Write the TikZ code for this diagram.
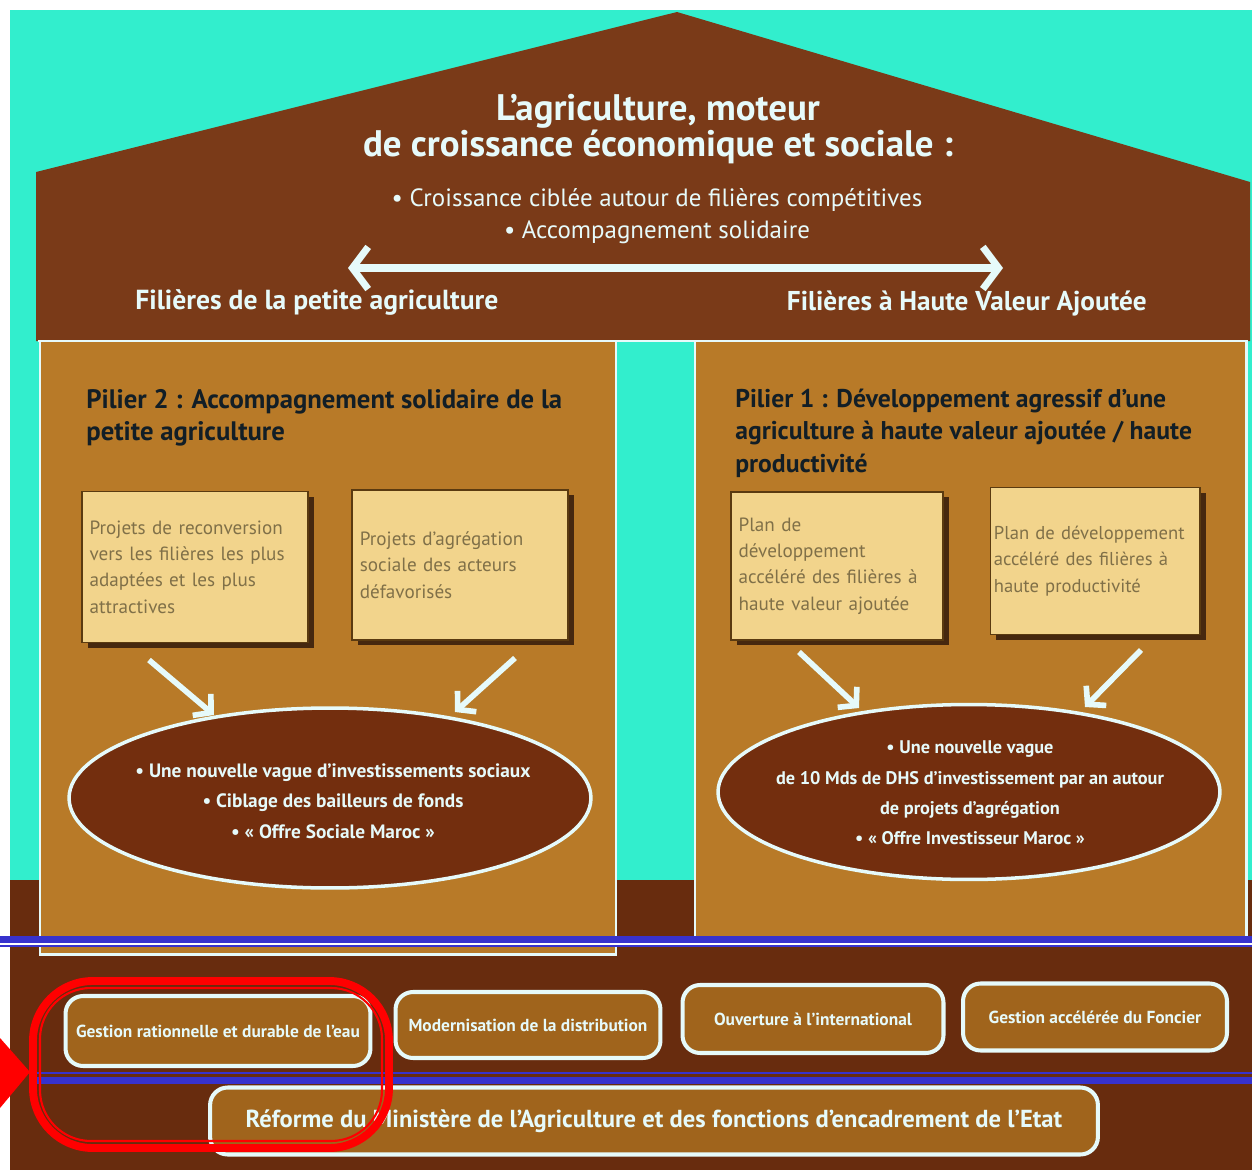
\documentclass[tikz,border=0pt]{standalone}
\usepackage{fontspec}
\usepackage{graphicx}
\setmainfont{PT Sans}
\usetikzlibrary{arrows.meta,shapes.geometric,shadows}
\definecolor{bggreen}{RGB}{50,238,205}
\definecolor{roofbrown}{RGB}{122,58,24}
\definecolor{groundbrown}{RGB}{104,44,14}
\definecolor{pillargold}{RGB}{184,122,40}
\definecolor{boxyellow}{RGB}{242,212,140}
\definecolor{subtext}{RGB}{128,112,72}
\definecolor{shadowc}{RGB}{70,40,15}
\definecolor{ellbrown}{RGB}{115,46,14}
\definecolor{linewhite}{RGB}{230,250,250}
\definecolor{boxgold}{RGB}{160,100,28}
\definecolor{titledark}{RGB}{18,30,38}
\definecolor{blueline}{RGB}{55,50,205}
\definecolor{boxedge}{RGB}{90,58,16}
\tikzset{
  pillarshape/.style={draw=linewhite, line width=1.7pt, fill=pillargold},
  subbox/.style={rectangle, draw=boxedge, line width=0.6pt, fill=boxyellow,
    inner xsep=4pt, inner ysep=0pt, align=left, text=subtext,
    font=\fontsize{10.9}{15}\selectfont,
    drop shadow={shadow xshift=3.5pt, shadow yshift=-3pt, fill=shadowc, opacity=1}},
  ellshape/.style={ellipse, draw=linewhite, line width=2pt, fill=ellbrown, inner sep=0pt},
  elltext/.style={align=center, text=linewhite, inner sep=0pt,
    font=\bfseries\fontsize{11}{17.4}\selectfont},
  bottombox/.style={rectangle, rounded corners=10pt, draw=linewhite, line width=2.3pt,
    fill=boxgold, text=linewhite, inner sep=0pt,
    font=\bfseries\fontsize{9.9}{11}\selectfont},
  bigarrow/.style={draw=linewhite, line width=3.2pt, -{Straight Barb[length=7pt,width=16pt]}},
  pillartitle/.style={anchor=north west, align=left, text=titledark, inner sep=0pt,
    font=\bfseries\fontsize{15.2}{18.3}\selectfont},
  rooftext/.style={align=center, text=linewhite, inner sep=0pt},
  blueband/.style={draw=blueline},
  redmark/.style={draw=red}
}
\begin{document}
\begin{tikzpicture}[x=0.02cm,y=-0.02cm]
\useasboundingbox (0,0) rectangle (1252,1170);
% background
\fill[white] (0,0) rectangle (1252,1170);
\fill[bggreen] (10,10) rectangle (1252,880);
\fill[groundbrown] (10,880) rectangle (1252,1170);
% roof
\fill[roofbrown] (36,341) -- (36,172) -- (677,12) -- (1250,182) -- (1250,341) -- cycle;
\draw[linewhite, line width=1.7pt] (38,341) -- (1248,341);
% roof texts
\node[rooftext, font=\bfseries\fontsize{21}{20}\selectfont] (title) at (658,129)
  {L’agriculture, moteur\\de croissance économique et sociale :};
\node[rooftext, font=\fontsize{14.2}{18}\selectfont] (bullets) at (657,216)
  {• Croissance ciblée autour de filières compétitives\\• Accompagnement solidaire};
\coordinate (arL) at (348,268);
\coordinate (arR) at (1003,268);
\draw[linewhite, line width=4pt, {Straight Barb[length=9pt,width=24pt]}-{Straight Barb[length=9pt,width=24pt]}] (arL) -- (arR);
\node[rooftext, anchor=west, font=\bfseries\fontsize{15.7}{16}\selectfont] (filL) at (135,302)
  {Filières de la petite agriculture};
\node[rooftext, anchor=east, font=\bfseries\fontsize{15.5}{16}\selectfont] (filR) at (1147,304)
  {Filières à Haute Valeur Ajoutée};
% pillars
\path[pillarshape] (40,341) rectangle (616,954);
\path[pillarshape] (695,341) rectangle (1246,944);
% pillar 2 (left)
\node[pillartitle] (p2) at (86,389)
  {Pilier 2 : Accompagnement solidaire de la\\petite agriculture};
\node[subbox, minimum width=4.52cm, minimum height=3.02cm, text width=120pt] (L1) at (195,567)
  {Projets de reconversion\\vers les filières les plus\\adaptées et les plus\\attractives};
\node[subbox, minimum width=4.32cm, minimum height=3.0cm, text width=114pt] (L2) at (460,565)
  {Projets d’agrégation\\sociale des acteurs\\défavorisés};
\node[ellshape, minimum width=10.44cm, minimum height=3.6cm] (E1) at (330,798) {};
\node[elltext] (E1t) at (333,801)
  {• Une nouvelle vague d’investissements sociaux\\• Ciblage des bailleurs de fonds\\• « Offre Sociale Maroc »};
\coordinate (a1s) at (149,660);
\coordinate (a1e) at (214,715);
\coordinate (a2s) at (515,658);
\coordinate (a2e) at (455,712);
\draw[bigarrow] (a1s) -- (a1e);
\draw[bigarrow] (a2s) -- (a2e);
% pillar 1 (right)
\node[pillartitle, font=\bfseries\fontsize{14.6}{18.3}\selectfont] (p1) at (735,389)
  {Pilier 1 : Développement agressif d’une\\agriculture à haute valeur ajoutée / haute\\productivité};
\node[subbox, minimum width=4.24cm, minimum height=2.96cm, text width=112pt] (R1) at (837,566)
  {Plan de\\développement\\accéléré des filières à\\haute valeur ajoutée};
\node[subbox, minimum width=4.2cm, minimum height=2.94cm, inner xsep=2pt, text width=115pt,
  font=\fontsize{10.6}{15}\selectfont] (R2) at (1095,561)
  {Plan de développement\\accéléré des filières à\\haute productivité};
\node[ellshape, minimum width=10.04cm, minimum height=3.5cm] (E2) at (969,792) {};
\node[elltext, font=\bfseries\fontsize{10.4}{17.2}\selectfont] (E2t) at (970,793)
  {• Une nouvelle vague\\de 10 Mds de DHS d’investissement par an autour\\de projets d’agrégation\\• « Offre Investisseur Maroc »};
\coordinate (b1s) at (799,652);
\coordinate (b1e) at (859,708);
\coordinate (b2s) at (1141,650);
\coordinate (b2e) at (1085,707);
\draw[bigarrow] (b1s) -- (b1e);
\draw[bigarrow] (b2s) -- (b2e);
% bottom boxes
\node[bottombox, minimum width=6.1cm, minimum height=1.4cm] (g1) at (218,1031)
  {Gestion rationnelle et durable de l’eau};
\node[bottombox, minimum width=5.3cm, minimum height=1.32cm] (g2) at (528,1025)
  {Modernisation de la distribution};
\node[bottombox, minimum width=5.22cm, minimum height=1.36cm] (g3) at (813,1019)
  {Ouverture à l’international};
\node[bottombox, minimum width=5.28cm, minimum height=1.34cm] (g4) at (1095,1017)
  {Gestion accélérée du Foncier};
\node[bottombox, minimum width=17.76cm, minimum height=1.34cm,
  font=\bfseries\fontsize{14}{15}\selectfont] (g5) at (654,1121)
  {Réforme du Ministère de l’Agriculture et des fonctions d’encadrement de l’Etat};
% blue overlay lines
\draw[blueband, line width=4pt] (0,939.5) -- (1252,939.5);
\draw[white, line width=1.1pt] (0,944) -- (1252,944);
\draw[blueband, line width=1.2pt] (0,946) -- (1252,946);
\draw[blueband, line width=1.2pt] (30,1073) -- (1252,1073);
\draw[blueband, line width=4pt] (30,1080.5) -- (1252,1080.5);
% red overlay
\draw[redmark, line width=4.5pt, rounded corners=34pt] (33,981) rectangle (389,1148);
\draw[redmark, line width=1.2pt, rounded corners=29pt] (40,988) rectangle (382,1141);
\fill[red] (0,1038) -- (30,1072) -- (0,1108) -- cycle;
\end{tikzpicture}
\end{document}
